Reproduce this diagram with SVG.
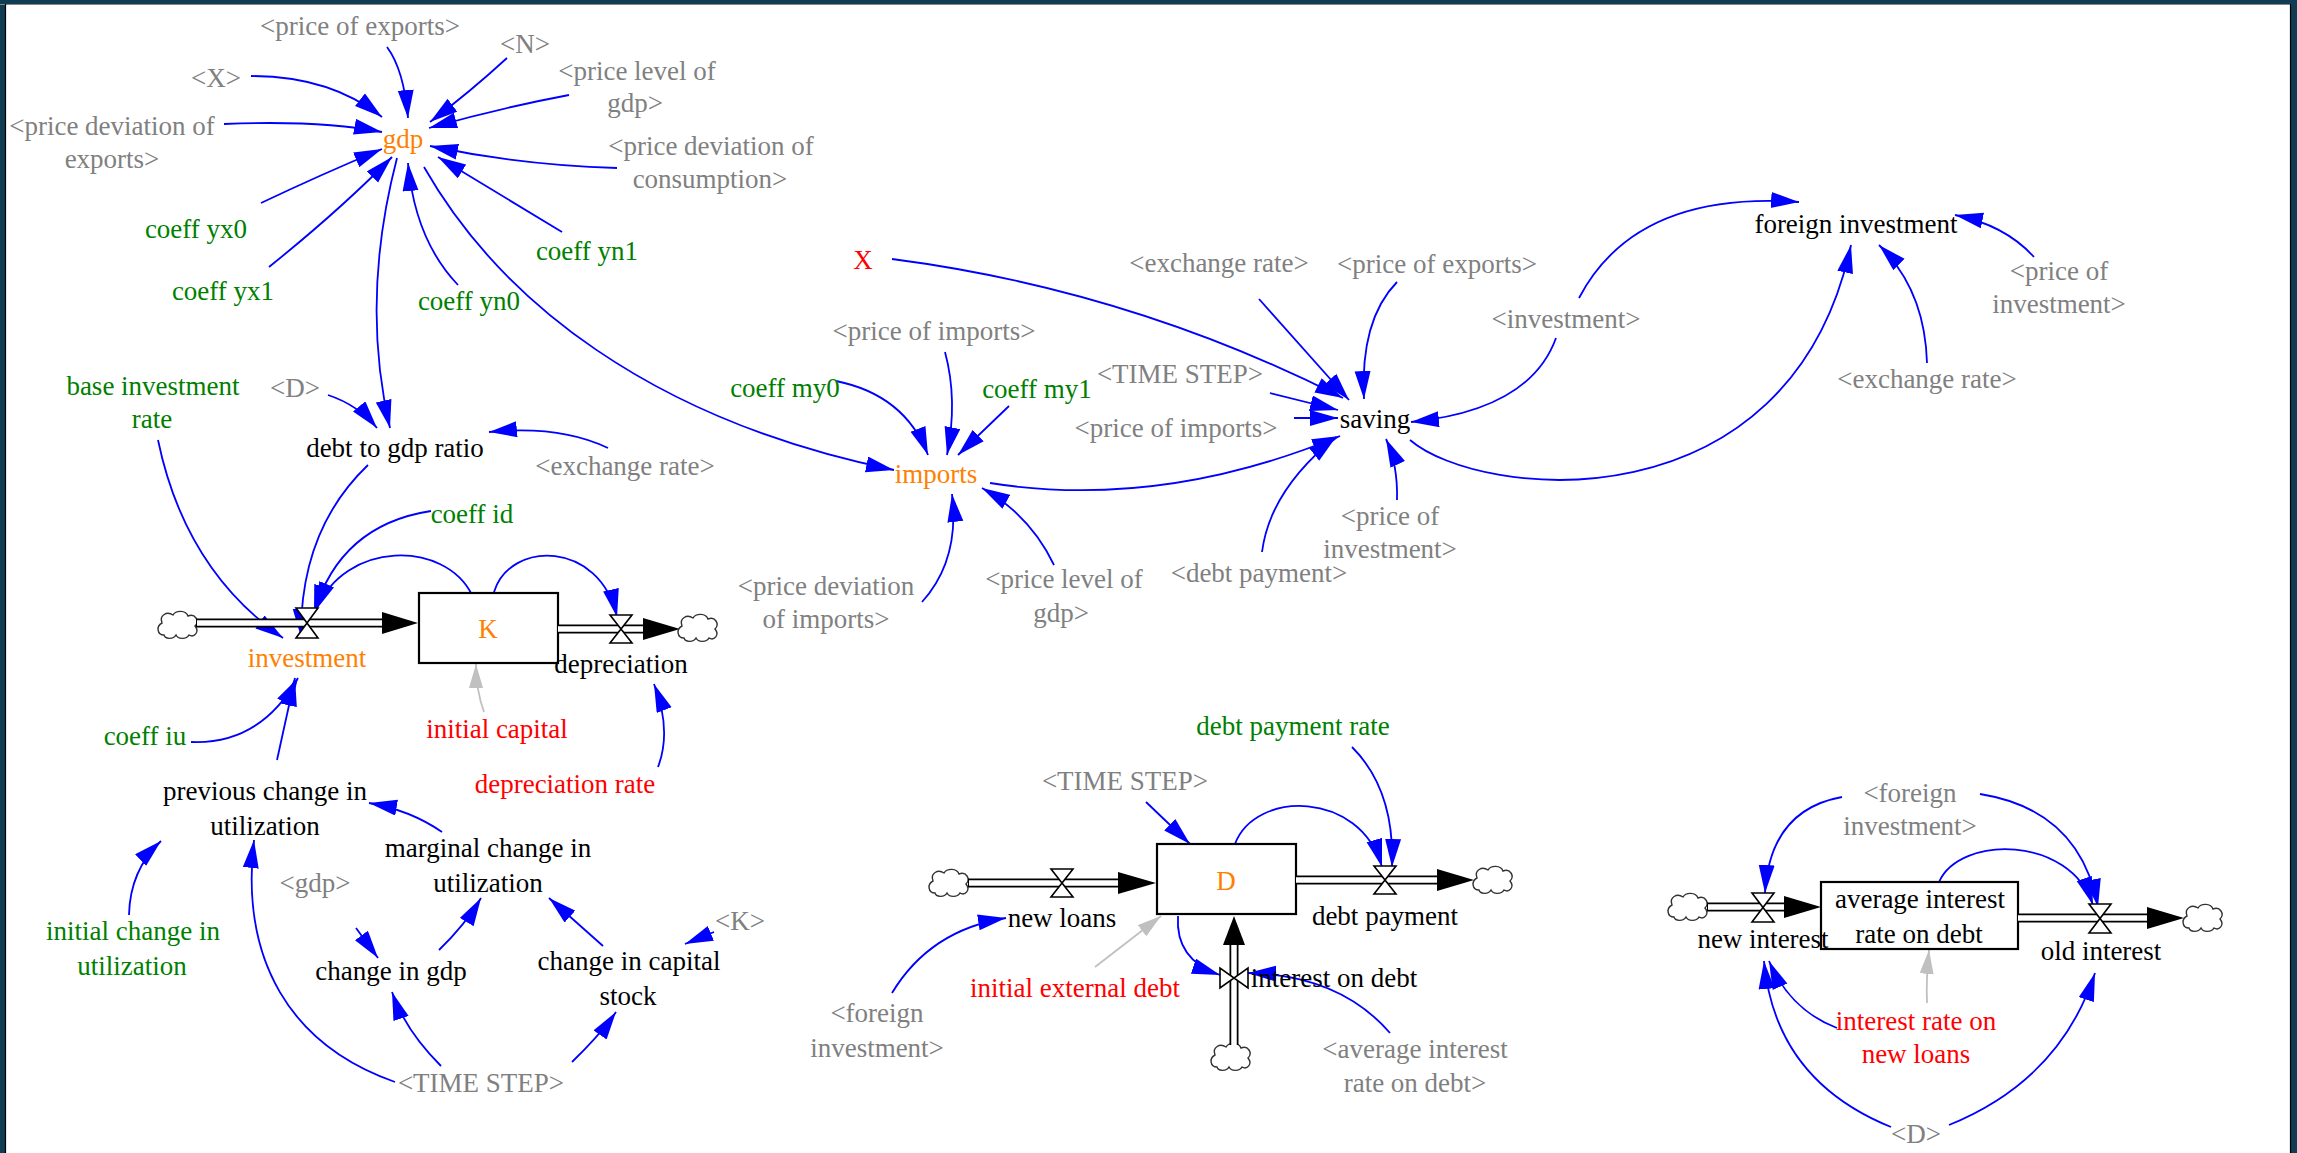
<svg xmlns="http://www.w3.org/2000/svg" width="2297" height="1153" viewBox="0 0 2297 1153">
<style>
text{font-family:"Liberation Serif","Times New Roman",serif;font-size:27px;text-anchor:middle}
.g{fill:#808080}.gr{fill:#008000}.r{fill:#ff0000}.o{fill:#ff8000}.k{fill:#000}
.lnk{fill:none;stroke:#0000ff;stroke-width:1.8;marker-end:url(#ab)}
.glnk{fill:none;stroke:#c0c0c0;stroke-width:1.8;marker-end:url(#ag)}
.po{fill:none;stroke:#000;stroke-width:9}
.pi{fill:none;stroke:#fff;stroke-width:5.5}
.valve{fill:#fff;stroke:#000;stroke-width:1.6}
.stock{fill:#fff;stroke:#000;stroke-width:2.2}
.cloud{fill:#fff;stroke:#333;stroke-width:1.4}
.fa{fill:#000}
</style>
<defs>
<marker id="ab" markerUnits="userSpaceOnUse" markerWidth="29" markerHeight="17" refX="28" refY="8" orient="auto"><path d="M0,0 L28,8 L0,16 Z" fill="#0000ff"/></marker>
<marker id="ag" markerUnits="userSpaceOnUse" markerWidth="25" markerHeight="15" refX="24" refY="7" orient="auto"><path d="M0,0 L24,7 L0,14 Z" fill="#c0c0c0"/></marker>
<path id="cl" d="M-14,10 C-21,10 -22,1 -16,-2 C-19,-10 -11,-14 -5,-10 C-2,-15 8,-15 10,-9 C17,-12 22,-4 17,1 C22,7 16,13 11,10 C8,15 0,14 -2,10 C-5,15 -13,14 -14,10 Z"/>
</defs>
<rect x="0" y="0" width="2297" height="1153" fill="#103d54"/>
<rect x="6" y="5" width="2284" height="1148" fill="#fff"/>
<line x1="0" y1="4.5" x2="2291" y2="4.5" stroke="#888" stroke-width="1.2"/>
<line x1="5.5" y1="4" x2="5.5" y2="1153" stroke="#000" stroke-width="1.2"/>
<line x1="2290.5" y1="4" x2="2290.5" y2="1153" stroke="#000" stroke-width="1.2"/>

<g id="connectors">
<path class="lnk" d="M387,47 Q404,70 408,118"/>
<path class="lnk" d="M507,58 Q470,92 430,122"/>
<path class="lnk" d="M569,95 Q500,108 429,128"/>
<path class="lnk" d="M251,76 Q330,76 382,117"/>
<path class="lnk" d="M224,124 Q320,120 382,132"/>
<path class="lnk" d="M261,203 Q320,175 382,149"/>
<path class="lnk" d="M269,267 Q340,210 392,157"/>
<path class="lnk" d="M458,285 Q415,240 408,163"/>
<path class="lnk" d="M562,232 L438,157"/>
<path class="lnk" d="M617,168 Q520,165 430,146"/>
<path class="lnk" d="M397,158 Q360,300 390,428"/>
<path class="lnk" d="M424,167 C500,300 650,420 894,470"/>
<path class="lnk" d="M328,395 Q358,405 377,428"/>
<path class="lnk" d="M608,448 Q560,425 489,432"/>
<path class="lnk" d="M158,440 Q185,570 283,638"/>
<path class="lnk" d="M368,465 Q300,530 301,637"/>
<path class="lnk" d="M431,511 Q340,525 314,613"/>
<path class="lnk" d="M472,595 C445,540 345,540 316,610"/>
<path class="lnk" d="M494,592 C510,540 600,540 617,617"/>
<path class="lnk" d="M191,742 Q260,745 298,678"/>
<path class="lnk" d="M277,760 L295,678"/>
<path class="glnk" d="M484,712 Q476,690 476,664"/>
<path class="lnk" d="M658,767 Q672,730 654,684"/>
<path class="lnk" d="M129,915 Q130,870 161,841"/>
<path class="lnk" d="M442,832 Q410,810 369,803"/>
<path class="lnk" d="M395,1082 C290,1045 240,960 254,840"/>
<path class="lnk" d="M356,928 L378,958"/>
<path class="lnk" d="M439,950 Q465,925 481,898"/>
<path class="lnk" d="M603,946 L549,898"/>
<path class="lnk" d="M714,932 L685,944"/>
<path class="lnk" d="M441,1066 Q405,1030 392,992"/>
<path class="lnk" d="M572,1062 Q600,1035 616,1012"/>
<path class="lnk" d="M892,259 Q1130,290 1343,398"/>
<path class="lnk" d="M1259,299 L1349,400"/>
<path class="lnk" d="M1397,282 Q1360,320 1364,399"/>
<path class="lnk" d="M1270,393 L1338,410"/>
<path class="lnk" d="M1294,418 L1338,418"/>
<path class="lnk" d="M1262,552 Q1270,490 1336,437"/>
<path class="lnk" d="M1397,500 Q1398,465 1386,439"/>
<path class="lnk" d="M1556,338 Q1530,410 1411,422"/>
<path class="lnk" d="M1410,440 C1480,500 1790,530 1851,245"/>
<path class="lnk" d="M1579,298 C1620,220 1700,195 1799,202"/>
<path class="lnk" d="M1927,363 Q1925,290 1879,245"/>
<path class="lnk" d="M2034,257 Q2005,225 1955,215"/>
<path class="lnk" d="M836,381 Q905,395 928,455"/>
<path class="lnk" d="M945,352 Q958,400 947,455"/>
<path class="lnk" d="M1009,406 L958,455"/>
<path class="lnk" d="M922,602 Q960,560 952,494"/>
<path class="lnk" d="M1054,565 Q1030,515 982,488"/>
<path class="lnk" d="M990,483 Q1160,510 1340,436"/>
<path class="lnk" d="M1146,802 L1190,844"/>
<path class="lnk" d="M1235,844 C1255,790 1360,790 1382,867"/>
<path class="lnk" d="M1352,747 Q1395,790 1392,867"/>
<path class="lnk" d="M1178,916 Q1175,960 1220,975"/>
<path class="lnk" d="M1390,1033 Q1340,975 1248,973"/>
<path class="glnk" d="M1095,967 L1161,916"/>
<path class="lnk" d="M892,993 Q930,930 1006,918"/>
<path class="lnk" d="M1842,797 Q1770,810 1765,893"/>
<path class="lnk" d="M1980,794 Q2080,810 2098,907"/>
<path class="lnk" d="M1939,882 C1960,835 2070,835 2093,905"/>
<path class="lnk" d="M1837,1028 Q1790,1010 1769,961"/>
<path class="lnk" d="M1891,1127 Q1775,1080 1764,961"/>
<path class="lnk" d="M1949,1125 Q2060,1080 2095,973"/>
<path class="glnk" d="M1927,1003 Q1926,980 1929,950"/>
</g>

<g id="K">
<rect class="stock" x="419" y="593" width="139" height="70"/>
<text class="o" x="488" y="638">K</text>
</g>
<g id="investment">
<use href="#cl" class="cloud" x="178" y="625"/>
<path class="po" d="M196,623 H383"/><path class="pi" d="M197,623 H384"/>
<polygon class="fa" points="382,612 418,623 382,634"/>
<path class="valve" d="M296,608 L318,608 L296,638 L318,638 Z"/>
<text class="o" x="307" y="667">investment</text>
</g>
<g id="depreciation">
<path class="po" d="M558,629 H644"/><path class="pi" d="M558,629 H645"/>
<polygon class="fa" points="643,618 680,629 643,640"/>
<use href="#cl" class="cloud" x="698" y="628"/>
<path class="valve" d="M610,615 L632,615 L610,643 L632,643 Z"/>
<text class="k" x="621" y="673">depreciation</text>
</g>

<g id="D">
<rect class="stock" x="1157" y="844" width="139" height="70"/>
<text class="o" x="1226" y="890">D</text>
</g>
<g id="new-loans">
<use href="#cl" class="cloud" x="949" y="883"/>
<path class="po" d="M968,883 H1119"/><path class="pi" d="M969,883 H1120"/>
<polygon class="fa" points="1118,872 1156,883 1118,894"/>
<path class="valve" d="M1051,869 L1073,869 L1051,897 L1073,897 Z"/>
<text class="k" x="1062" y="927">new loans</text>
</g>
<g id="debt-payment">
<path class="po" d="M1296,880 H1438"/><path class="pi" d="M1296,880 H1439"/>
<polygon class="fa" points="1437,869 1474,880 1437,891"/>
<use href="#cl" class="cloud" x="1493" y="880"/>
<path class="valve" d="M1374,866 L1396,866 L1374,894 L1396,894 Z"/>
<text class="k" x="1385" y="925">debt payment</text>
</g>
<g id="interest-on-debt">
<use href="#cl" class="cloud" x="1231" y="1057"/>
<path class="po" d="M1234,1045 V944"/><path class="pi" d="M1234,1045 V943"/>
<polygon class="fa" points="1223,945 1234,916 1245,945"/>
<path class="valve" d="M1220,968 L1220,988 L1248,968 L1248,988 Z"/>
<text class="k" x="1334" y="987">interest on debt</text>
</g>

<g id="avg-interest">
<rect class="stock" x="1821" y="882" width="197" height="67"/>
<text class="k" x="1920" y="908">average interest</text>
<text class="k" x="1919" y="943">rate on debt</text>
</g>
<g id="new-interest">
<use href="#cl" class="cloud" x="1688" y="907"/>
<path class="po" d="M1707,907 H1785"/><path class="pi" d="M1708,907 H1786"/>
<polygon class="fa" points="1784,896 1821,907 1784,918"/>
<path class="valve" d="M1752,893 L1774,893 L1752,922 L1774,922 Z"/>
<text class="k" x="1763" y="948">new interest</text>
</g>
<g id="old-interest">
<path class="po" d="M2018,918 H2148"/><path class="pi" d="M2018,918 H2149"/>
<polygon class="fa" points="2147,907 2184,918 2147,929"/>
<use href="#cl" class="cloud" x="2203" y="918"/>
<path class="valve" d="M2089,904 L2111,904 L2089,933 L2111,933 Z"/>
<text class="k" x="2101" y="960">old interest</text>
</g>

<g id="gdp"><text class="o" x="403" y="148">gdp</text></g>
<g id="sh-price-of-exports-1"><text class="g" x="360" y="35">&lt;price of exports&gt;</text></g>
<g id="sh-N"><text class="g" x="525" y="53">&lt;N&gt;</text></g>
<g id="sh-X-1"><text class="g" x="216" y="87">&lt;X&gt;</text></g>
<g id="sh-price-level-1"><text class="g" x="637" y="80">&lt;price level of<tspan x="635" dy="32">gdp&gt;</tspan></text></g>
<g id="sh-price-dev-exports"><text class="g" x="112" y="135">&lt;price deviation of<tspan x="112" dy="33">exports&gt;</tspan></text></g>
<g id="sh-price-dev-cons"><text class="g" x="711" y="155">&lt;price deviation of<tspan x="710" dy="33">consumption&gt;</tspan></text></g>
<g id="coeff-yx0"><text class="gr" x="196" y="238">coeff yx0</text></g>
<g id="coeff-yx1"><text class="gr" x="223" y="300">coeff yx1</text></g>
<g id="coeff-yn0"><text class="gr" x="469" y="310">coeff yn0</text></g>
<g id="coeff-yn1"><text class="gr" x="587" y="260">coeff yn1</text></g>
<g id="base-investment-rate"><text class="gr" x="153" y="395">base investment<tspan x="152" dy="33">rate</tspan></text></g>
<g id="sh-D-1"><text class="g" x="295" y="397">&lt;D&gt;</text></g>
<g id="debt-to-gdp-ratio"><text class="k" x="395" y="457">debt to gdp ratio</text></g>
<g id="sh-exchange-rate-1"><text class="g" x="625" y="475">&lt;exchange rate&gt;</text></g>
<g id="coeff-id"><text class="gr" x="472" y="523">coeff id</text></g>
<g id="coeff-iu"><text class="gr" x="145" y="745">coeff iu</text></g>
<g id="initial-capital"><text class="r" x="497" y="738">initial capital</text></g>
<g id="depreciation-rate"><text class="r" x="565" y="793">depreciation rate</text></g>
<g id="previous-change"><text class="k" x="265" y="800">previous change in<tspan x="265" dy="35">utilization</tspan></text></g>
<g id="marginal-change"><text class="k" x="488" y="857">marginal change in<tspan x="488" dy="35">utilization</tspan></text></g>
<g id="sh-gdp"><text class="g" x="315" y="892">&lt;gdp&gt;</text></g>
<g id="initial-change"><text class="gr" x="133" y="940">initial change in<tspan x="132" dy="35">utilization</tspan></text></g>
<g id="change-in-gdp"><text class="k" x="391" y="980">change in gdp</text></g>
<g id="change-in-capital"><text class="k" x="629" y="970">change in capital<tspan x="628" dy="35">stock</tspan></text></g>
<g id="sh-K"><text class="g" x="740" y="930">&lt;K&gt;</text></g>
<g id="sh-time-step-1"><text class="g" x="481" y="1092">&lt;TIME STEP&gt;</text></g>

<g id="X"><text class="r" x="863" y="269">X</text></g>
<g id="sh-exchange-rate-2"><text class="g" x="1219" y="272">&lt;exchange rate&gt;</text></g>
<g id="sh-price-of-exports-2"><text class="g" x="1437" y="273">&lt;price of exports&gt;</text></g>
<g id="sh-price-of-imports-1"><text class="g" x="934" y="340">&lt;price of imports&gt;</text></g>
<g id="coeff-my0"><text class="gr" x="785" y="397">coeff my0</text></g>
<g id="coeff-my1"><text class="gr" x="1037" y="398">coeff my1</text></g>
<g id="sh-time-step-2"><text class="g" x="1180" y="383">&lt;TIME STEP&gt;</text></g>
<g id="sh-price-of-imports-2"><text class="g" x="1176" y="437">&lt;price of imports&gt;</text></g>
<g id="saving"><text class="k" x="1375" y="428">saving</text></g>
<g id="imports"><text class="o" x="936" y="483">imports</text></g>
<g id="sh-price-dev-imports"><text class="g" x="826" y="595">&lt;price deviation<tspan x="826" dy="33">of imports&gt;</tspan></text></g>
<g id="sh-price-level-2"><text class="g" x="1064" y="588">&lt;price level of<tspan x="1061" dy="34">gdp&gt;</tspan></text></g>
<g id="sh-debt-payment"><text class="g" x="1259" y="582">&lt;debt payment&gt;</text></g>
<g id="sh-price-of-investment-1"><text class="g" x="1390" y="525">&lt;price of<tspan x="1390" dy="33">investment&gt;</tspan></text></g>
<g id="sh-investment"><text class="g" x="1566" y="328">&lt;investment&gt;</text></g>
<g id="foreign-investment"><text class="k" x="1856" y="233">foreign investment</text></g>
<g id="sh-exchange-rate-3"><text class="g" x="1927" y="388">&lt;exchange rate&gt;</text></g>
<g id="sh-price-of-investment-2"><text class="g" x="2059" y="280">&lt;price of<tspan x="2059" dy="33">investment&gt;</tspan></text></g>

<g id="debt-payment-rate"><text class="gr" x="1293" y="735">debt payment rate</text></g>
<g id="sh-time-step-3"><text class="g" x="1125" y="790">&lt;TIME STEP&gt;</text></g>
<g id="initial-external-debt"><text class="r" x="1075" y="997">initial external debt</text></g>
<g id="sh-foreign-investment-1"><text class="g" x="877" y="1022">&lt;foreign<tspan x="877" dy="35">investment&gt;</tspan></text></g>
<g id="sh-avg-interest"><text class="g" x="1415" y="1058">&lt;average interest<tspan x="1415" dy="34">rate on debt&gt;</tspan></text></g>

<g id="sh-foreign-investment-2"><text class="g" x="1910" y="802">&lt;foreign<tspan x="1910" dy="33">investment&gt;</tspan></text></g>
<g id="interest-rate-new-loans"><text class="r" x="1916" y="1030">interest rate on<tspan x="1916" dy="33">new loans</tspan></text></g>
<g id="sh-D-2"><text class="g" x="1916" y="1143">&lt;D&gt;</text></g>
</svg>
